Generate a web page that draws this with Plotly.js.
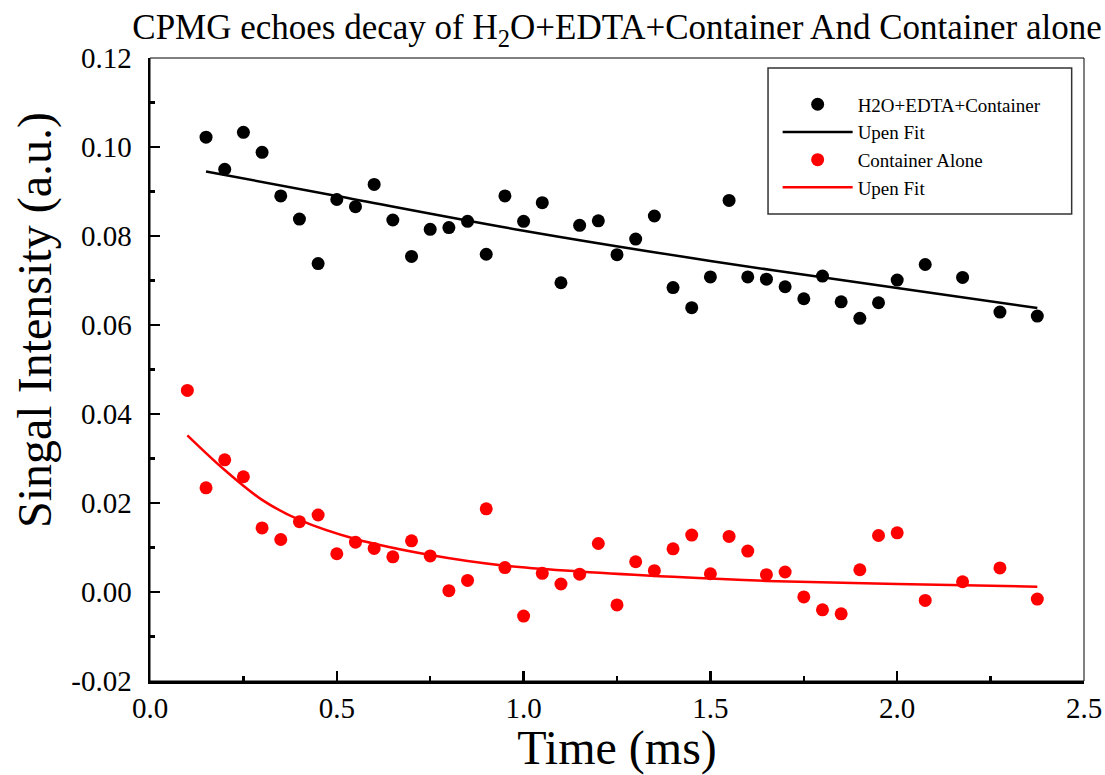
<!DOCTYPE html>
<html>
<head>
<meta charset="utf-8">
<script src="https://cdn.plot.ly/plotly-3.0.1.min.js"></script>
<style>html,body{margin:0;padding:0;background:#fff;}#chart{width:1105px;height:775px;}</style>
</head>
<body>
<div id="chart"></div>
<script>
// Data
const blackX = [0.15,0.20,0.25,0.30,0.35,0.40,0.45,0.50,0.55,0.60,0.65,0.70,0.75,0.80,0.85,0.90,0.95,1.00,1.05,1.10,1.15,1.20,1.25,1.30,1.35,1.40,1.45,1.50,1.55,1.60,1.65,1.70,1.75,1.80,1.85,1.90,1.95,2.00,2.075,2.175,2.275,2.375];
const blackY = [0.1022,0.0950,0.1033,0.0988,0.0890,0.0838,0.0738,0.0882,0.0866,0.0916,0.0836,0.0754,0.0815,0.0819,0.0833,0.0759,0.0890,0.0833,0.0875,0.0695,0.0824,0.0834,0.0758,0.0793,0.0845,0.0684,0.0639,0.0708,0.0880,0.0708,0.0703,0.0686,0.0659,0.0710,0.0652,0.0615,0.0650,0.0701,0.0736,0.0707,0.0629,0.0620];
const blackFitX = [0.15,0.50,1.00,1.50,2.00,2.375];
const blackFitY = [0.0945,0.0890,0.0812,0.0744,0.0683,0.0638];

const redX = [0.10,0.15,0.20,0.25,0.30,0.35,0.40,0.45,0.50,0.55,0.60,0.65,0.70,0.75,0.80,0.85,0.90,0.95,1.00,1.05,1.10,1.15,1.20,1.25,1.30,1.35,1.40,1.45,1.50,1.55,1.60,1.65,1.70,1.75,1.80,1.85,1.90,1.95,2.00,2.075,2.175,2.275,2.375];
const redY = [0.0453,0.0234,0.0297,0.0259,0.0144,0.0118,0.0158,0.0173,0.0086,0.0112,0.0098,0.0079,0.0115,0.0081,0.0003,0.0026,0.0187,0.0055,-0.0054,0.0042,0.0018,0.0040,0.0109,-0.0029,0.0068,0.0048,0.0097,0.0128,0.0041,0.0125,0.0092,0.0039,0.0045,-0.0011,-0.0040,-0.0049,0.0050,0.0127,0.0133,-0.0019,0.0023,0.0054,-0.0016];
const redFitX = [0.10,0.20,0.30,0.40,0.55,0.75,0.95,1.15,1.40,1.65,2.00,2.375];
const redFitY = [0.0352,0.0274,0.0207,0.0162,0.0119,0.0083,0.0059,0.0046,0.0034,0.0025,0.0018,0.0012];

const xTickVals = [0.0,0.5,1.0,1.5,2.0,2.5];
const xTickText = ['0.0','0.5','1.0','1.5','2.0','2.5'];
const yTickVals = [-0.02,0.00,0.02,0.04,0.06,0.08,0.10,0.12];
const yTickText = ['-0.02','0.00','0.02','0.04','0.06','0.08','0.10','0.12'];

const names = ['H2O+EDTA+Container','Upen Fit','Container Alone','Upen Fit'];
const yTitle = 'Singal Intensity (a.u.)';

const FONT = '"Liberation Serif", "Times New Roman", serif';

const traces = [
  {x: blackX, y: blackY, mode: 'markers', type: 'scatter', name: names[0], legendgroup: 'a',
   marker: {color: '#000', size: 13}},
  {x: blackFitX, y: blackFitY, mode: 'lines', type: 'scatter', name: names[1], legendgroup: 'b',
   line: {color: '#000', width: 2.5, shape: 'spline'}},
  {x: redX, y: redY, mode: 'markers', type: 'scatter', name: names[2], legendgroup: 'c',
   marker: {color: '#ff0000', size: 13}},
  {x: redFitX, y: redFitY, mode: 'lines', type: 'scatter', name: names[3], legendgroup: 'd',
   line: {color: '#ff0000', width: 2.5, shape: 'spline'}}
];

const layout = {
  width: 1105, height: 775,
  margin: {l: 150, r: 21, t: 58, b: 94, autoexpand: false},
  paper_bgcolor: '#fff', plot_bgcolor: '#fff',
  font: {family: FONT, color: '#000'},
  showlegend: true,
  title: {text: 'CPMG echoes decay of H<sub>2</sub>O+EDTA+Container And Container alone',
          font: {family: FONT, size: 35, color: '#000'},
          x: 0.5, xref: 'paper', xanchor: 'center', y: 0.965, yref: 'container', yanchor: 'middle'},
  xaxis: {
    range: [0, 2.5], tickvals: xTickVals, ticktext: xTickText,
    ticks: 'inside', ticklen: 10, tickwidth: 2.5, tickcolor: '#000',
    minor: {dtick: 0.25, ticks: 'inside', ticklen: 5, tickwidth: 2.5, tickcolor: '#000'},
    showline: true, linewidth: 2.5, linecolor: '#000', showgrid: false, zeroline: false,
    tickfont: {family: FONT, size: 29, color: '#000'},
    title: {text: 'Time (ms)', font: {family: FONT, size: 48, color: '#000'}, standoff: 1},
    automargin: false
  },
  yaxis: {
    range: [-0.02, 0.12], tickvals: yTickVals, ticktext: yTickText,
    ticks: 'inside', ticklen: 10, tickwidth: 2.5, tickcolor: '#000',
    minor: {dtick: 0.01, ticks: 'inside', ticklen: 5, tickwidth: 2.5, tickcolor: '#000'},
    showline: true, linewidth: 2.5, linecolor: '#000', showgrid: false, zeroline: false,
    tickfont: {family: FONT, size: 29, color: '#000'},
    ticklabelstandoff: 10,
    automargin: false
  },
  legend: {
    x: 0.672, y: 0.956, xanchor: 'left', yanchor: 'top',
    bgcolor: 'rgba(0,0,0,0)', borderwidth: 0,
    font: {family: FONT, size: 19, color: '#000'},
    itemwidth: 70, tracegroupgap: 2, traceorder: 'normal'
  },
  annotations: [
    {text: yTitle, xref: 'paper', yref: 'paper', x: -0.1231, y: 0.5795,
     xanchor: 'center', yanchor: 'middle', textangle: -90, showarrow: false,
     font: {family: FONT, size: 48, color: '#000'}}
  ],
  shapes: [
    {type: 'rect', xref: 'paper', yref: 'paper', x0: 0, x1: 1, y0: 0, y1: 1,
     line: {color: '#000', width: 1}, layer: 'below'},
    {type: 'rect', xref: 'paper', yref: 'paper', x0: 0.6617, x1: 0.9868, y0: 0.7496, y1: 0.984,
     line: {color: '#333', width: 1.5}, layer: 'below'}
  ]
};

Plotly.newPlot('chart', traces, layout, {displayModeBar: false, staticPlot: true});
</script>
</body>
</html>
